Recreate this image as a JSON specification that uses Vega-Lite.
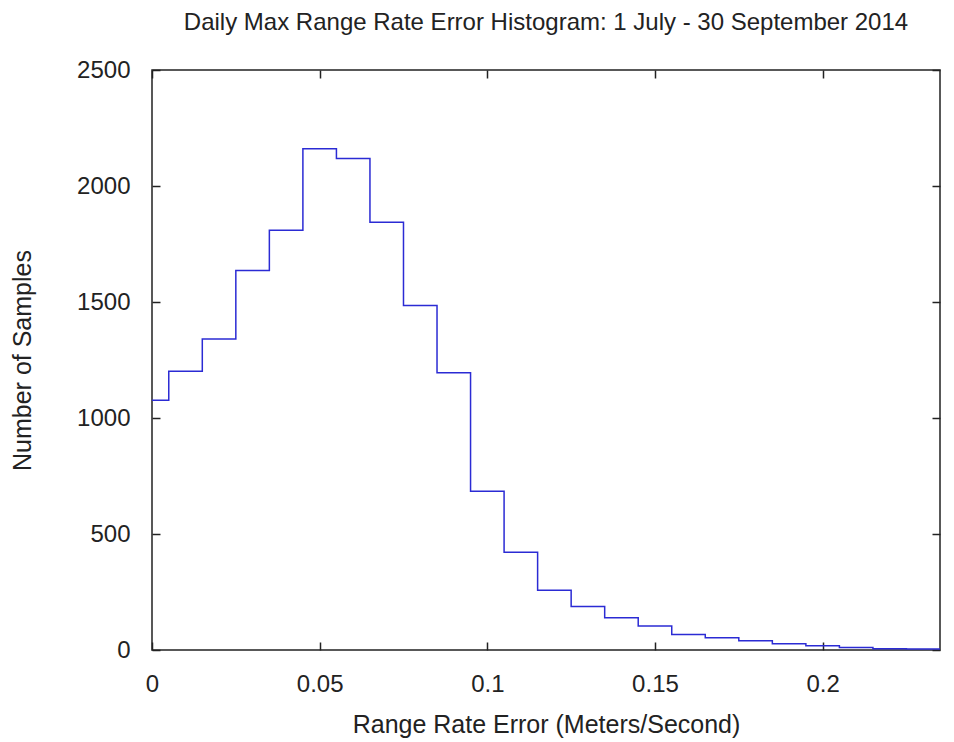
{
  "$schema": "https://vega.github.io/schema/vega-lite/v6.json",
  "width": 788,
  "height": 580,
  "autosize": {"type": "none"},
  "padding": {"left": 152, "top": 70, "right": 14, "bottom": 92},
  "background": "white",
  "title": {
    "text": "Daily Max Range Rate Error Histogram: 1 July - 30 September 2014",
    "font": "Liberation Sans",
    "fontSize": 24,
    "fontWeight": "normal",
    "color": "#222222",
    "offset": 23,
    "anchor": "middle"
  },
  "config": {
    "view": {"stroke": "#222222", "strokeWidth": 1.5},
    "axis": {
      "labelFont": "Liberation Sans",
      "titleFont": "Liberation Sans",
      "labelFontSize": 24,
      "titleFontSize": 25,
      "titleFontWeight": "normal",
      "labelColor": "#222222",
      "titleColor": "#222222",
      "tickColor": "#222222",
      "domain": false,
      "grid": false,
      "tickSize": -8,
      "tickWidth": 1.5
    }
  },
  "data": {
    "values": [
      {"edge": 0.0, "count": 1077},
      {"edge": 0.005, "count": 1201},
      {"edge": 0.015, "count": 1340},
      {"edge": 0.025, "count": 1636},
      {"edge": 0.035, "count": 1809},
      {"edge": 0.045, "count": 2161},
      {"edge": 0.055, "count": 2118},
      {"edge": 0.065, "count": 1844},
      {"edge": 0.075, "count": 1485},
      {"edge": 0.085, "count": 1195},
      {"edge": 0.095, "count": 684},
      {"edge": 0.105, "count": 421},
      {"edge": 0.115, "count": 258},
      {"edge": 0.125, "count": 188},
      {"edge": 0.135, "count": 139},
      {"edge": 0.145, "count": 103},
      {"edge": 0.155, "count": 67},
      {"edge": 0.165, "count": 53},
      {"edge": 0.175, "count": 40},
      {"edge": 0.185, "count": 27},
      {"edge": 0.195, "count": 18},
      {"edge": 0.205, "count": 11},
      {"edge": 0.215, "count": 5},
      {"edge": 0.225, "count": 4},
      {"edge": 0.235, "count": 4}
    ]
  },
  "resolve": {"axis": {"x": "independent", "y": "independent"}},
  "layer": [
    {
      "mark": {"type": "line", "interpolate": "step-after", "color": "#2b2bd4", "strokeWidth": 1.5, "clip": true},
      "encoding": {
        "x": {
          "field": "edge",
          "type": "quantitative",
          "scale": {"domain": [0, 0.235], "nice": false, "zero": false},
          "axis": {
            "orient": "bottom",
            "title": "Range Rate Error (Meters/Second)",
            "values": [0, 0.05, 0.1, 0.15, 0.2],
            "format": "~g",
            "labelPadding": 30,
            "titleY": 82,
            "titleBaseline": "alphabetic",
            "labelFlush": false,
            "labelOverlap": false
          }
        },
        "y": {
          "field": "count",
          "type": "quantitative",
          "scale": {"domain": [0, 2500], "nice": false},
          "axis": {
            "orient": "left",
            "title": "Number of Samples",
            "values": [0, 500, 1000, 1500, 2000, 2500],
            "format": "d",
            "labelPadding": 30,
            "titleX": -130,
            "titleBaseline": "middle",
            "labelFlush": false,
            "labelOverlap": false
          }
        }
      }
    },
    {
      "mark": {"type": "line", "strokeOpacity": 0},
      "encoding": {
        "x": {
          "field": "edge",
          "type": "quantitative",
          "scale": {"domain": [0, 0.235], "nice": false, "zero": false},
          "axis": {"orient": "top", "title": null, "labels": false, "values": [0, 0.05, 0.1, 0.15, 0.2]}
        },
        "y": {
          "field": "count",
          "type": "quantitative",
          "scale": {"domain": [0, 2500], "nice": false},
          "axis": {"orient": "right", "title": null, "labels": false, "values": [0, 500, 1000, 1500, 2000, 2500]}
        }
      }
    }
  ]
}
